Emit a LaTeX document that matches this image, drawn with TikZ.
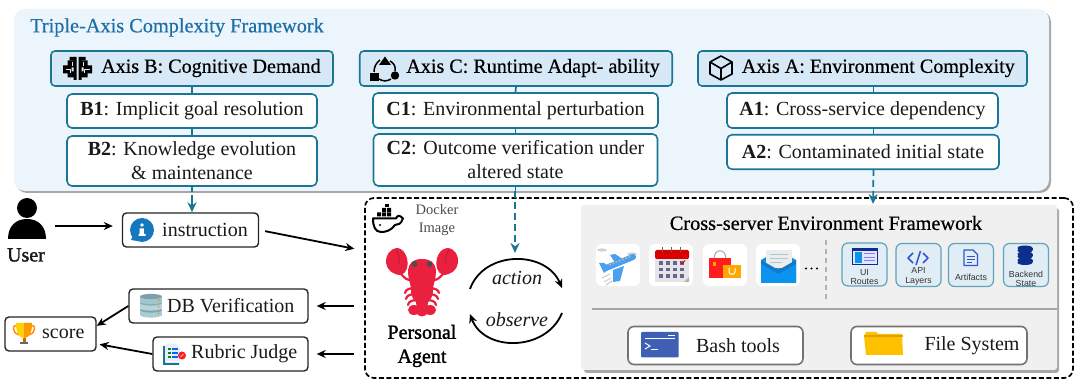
\documentclass[tikz,border=0pt]{standalone}
\usepackage{fontspec}
\setmainfont{Liberation Serif}
\setsansfont{Liberation Sans}
\newfontfamily\heavyserif[FakeBold=1.6]{Liberation Serif}
\newfontfamily\medserif[FakeBold=0.5]{Liberation Serif}
\usetikzlibrary{arrows.meta,calc}
\definecolor{tealline}{HTML}{1B7696}
\definecolor{panelblue}{HTML}{EDF5FC}
\definecolor{axisfill}{HTML}{D7E8F6}
\definecolor{titleblue}{HTML}{1D6FA8}
\definecolor{panelgray}{HTML}{F0F0F0}
\definecolor{shadowgray}{HTML}{A8A8A8}
\definecolor{tilefill}{HTML}{E0EDF5}
\definecolor{tileline}{HTML}{5FA3BC}
\definecolor{lobster}{HTML}{E9213F}
\definecolor{iconblue}{HTML}{2F55D4}
\definecolor{infoblue}{HTML}{1577BD}
\definecolor{skyblue}{HTML}{4A9FF0}
\definecolor{mailblue}{HTML}{0B93F0}
\definecolor{mailflap}{HTML}{1677C8}
\definecolor{termblue}{HTML}{3F5FB5}
\definecolor{folder}{HTML}{FFC000}
\definecolor{navy}{HTML}{0B2F8A}
\newcommand{\txt}[1]{\fontsize{#1}{#1}\selectfont}
\tikzset{
  axisbox/.style={draw=tealline,fill=axisfill,line width=1.6pt,rounded corners=4pt,inner sep=0pt},
  itembox/.style={draw=tealline,fill=white,line width=1.6pt,rounded corners=5pt,inner sep=0pt,align=center,font=\txt{20},text=black!90},
  flowbox/.style={draw=black!85,fill=white,line width=1.4pt,rounded corners=4pt,inner sep=0pt},
  toolbox/.style={draw=black!55,fill=white,line width=1.6pt,rounded corners=6pt,inner sep=0pt},
  apptile/.style={fill=white,rounded corners=6pt,inner sep=0pt},
  layertile/.style={draw=tileline,fill=tilefill,line width=1.2pt,rounded corners=6pt,inner sep=0pt},
  label/.style={inner sep=0pt,font=\txt{20},text=black!90},
  tinylabel/.style={inner sep=0pt,align=center,font=\sffamily\txt{8.8},text=black!80},
  arrowline/.style={draw=black,line width=1.8pt,-{Stealth[length=9pt,width=8pt]}},
  tealsolid/.style={draw=tealline,line width=1.7pt},
  tealarrow/.style={draw=tealline,line width=1.7pt,-{Stealth[length=10pt,width=9pt]}},
  tealdash/.style={tealarrow,dash pattern=on 7pt off 4pt}
}
\begin{document}
\begin{tikzpicture}[x=1pt,y=-1pt]
\useasboundingbox (0,0) rectangle (1080,387);
\fill[white] (0,0) rectangle (1080,387);

% framework panel
\fill[shadowgray,rounded corners=11pt] (16,11) rectangle (1051,193);
\node[fill=panelblue,rounded corners=11pt,minimum width=1035pt,minimum height=182pt,inner sep=0pt] (panel) at (531.5,100) {};
\node[label,anchor=west,text=titleblue,font=\medserif\txt{20.3}] (paneltitle) at (30,27.5) {Triple-Axis Complexity Framework};

% axis headers
\node[axisbox,minimum width=282pt,minimum height=35pt] (axisB) at (192,68.5) {};
\node[axisbox,minimum width=312.5pt,minimum height=35pt] (axisC) at (516,68.5) {};
\node[axisbox,minimum width=329pt,minimum height=35pt] (axisA) at (862.5,68.5) {};
\node[label,anchor=west,font=\medserif\txt{20.1},text=black] (axisBtext) at (101,68) {Axis B: Cognitive Demand};
\node[label,anchor=east,font=\medserif\txt{20.1},text=black] (axisCtext) at (660,68) {Axis C: Runtime Adapt- ability};
\node[label,anchor=east,font=\medserif\txt{20.1},text=black] (axisAtext) at (1015,68) {Axis A: Environment Complexity};

% item boxes
\node[itembox,minimum width=250pt,minimum height=34pt] (b1) at (192,111) {\textbf{B1}: Implicit goal resolution};
\node[itembox,minimum width=250pt,minimum height=50pt] (b2) at (192,161) {\textbf{B2}: Knowledge evolution\\[4pt]\& maintenance};
\node[itembox,minimum width=285pt,minimum height=35pt] (c1) at (515.5,110.5) {\textbf{C1}: Environmental perturbation};
\node[itembox,minimum width=284pt,minimum height=52pt] (c2) at (515.5,160) {\textbf{C2}: Outcome verification under\\[4pt]altered state};
\node[itembox,minimum width=271pt,minimum height=35pt] (a1) at (862.5,110.5) {\textbf{A1}: Cross-service dependency};
\node[itembox,minimum width=272pt,minimum height=34.5pt] (a2) at (863,152) {\textbf{A2}: Contaminated initial state};

% brain icon on the cognitive axis
\begin{scope}[shift={(77.5,68.5)}]
  \fill[black] (-4,-11.5) rectangle (-1,11.5) (1,-11.5) rectangle (4,11.5);
  \fill[black] (-10,-8) rectangle (-3,-1) (3,-8) rectangle (10,-1);
  \fill[black] (-14.5,-3) rectangle (-6,5) (6,-3) rectangle (14.5,5);
  \fill[black] (-10,3) rectangle (-3,9) (3,3) rectangle (10,9);
  \fill[black] (-8,-11.5) rectangle (-3,-8) (3,-11.5) rectangle (8,-8);
  \draw[axisfill,line width=.7pt] (-12,1) -- (-7,1) -- (-7,5) (12,1) -- (7,1) -- (7,5) (-5.5,-6) -- (-5.5,-2) (5.5,-6) -- (5.5,-2);
\end{scope}

% cycle icon on the runtime axis
\fill[black] (385,56.5) -- (391,65) -- (379,65) -- cycle;
\fill[black] (370,73.5) rectangle (378.5,81);
\fill[black] (395,75.5) circle (4.2);
\draw[black,line width=1.5pt] (374,72) .. controls (374,67) and (376,63) .. (380,60);
\draw[black,line width=1.5pt] (390,61) .. controls (394,63) and (396,67) .. (395,71);
\draw[black,line width=1.5pt] (391,79) .. controls (387,81.5) and (383,81.5) .. (379,79);

% cube icon on the environment axis
\draw[black,line width=1.6pt,line join=round] (721,56) -- (732,62) -- (732,74) -- (721,80) -- (710,74) -- (710,62) -- cycle;
\draw[black,line width=1.6pt,line join=round] (710,62) -- (721,68.5) -- (732,62) (721,68.5) -- (721,80);

% sandbox boundary and environment panel
\node[draw=black,line width=1.7pt,dash pattern=on 5pt off 2.5pt,rounded corners=9pt,minimum width=708pt,minimum height=180pt,inner sep=0pt] (docker) at (719,288) {};
\fill[shadowgray,rounded corners=3pt] (584,208) rectangle (1059,373);
\node[fill=panelgray,rounded corners=3pt,minimum width=476pt,minimum height=165pt,inner sep=0pt] (envpanel) at (819,287.5) {};
\node[label,font=\medserif\txt{20.3},text=black] (envtitle) at (826,223) {Cross-server Environment Framework};

% flow boxes
\node[flowbox,minimum width=136pt,minimum height=34pt] (instr) at (190.5,230) {};
\node[label,anchor=west] (instrtext) at (162,230) {instruction};
\node[flowbox,minimum width=179pt,minimum height=34pt] (db) at (218.5,306) {};
\node[label,anchor=west] (dbtext) at (167,306) {DB Verification};
\node[flowbox,minimum width=155pt,minimum height=34pt] (rubric) at (230.5,354) {};
\node[label,anchor=west] (rubrictext) at (191,354) {Rubric Judge};
\node[flowbox,minimum width=91pt,minimum height=34pt] (score) at (50.5,334) {};
\node[label,anchor=west] (scoretext) at (42,334) {score};
\node[label,font=\heavyserif\txt{20}] (user) at (26,255) {User};
\node[label,font=\heavyserif\txt{20},align=center,text=black] (agent) at (422,346) {Personal\\[4pt]Agent};
\node[inner sep=0pt,align=center,font=\txt{14.5},text=black!70] (dockertext) at (437,220) {Docker\\[3pt]Image};

% axis connectors
\coordinate (lineA) at (873.5,128);
\draw[tealsolid] (axisB.south) -- (b1.north);
\draw[tealsolid] (b1.south) -- (b2.north);
\draw[tealsolid] (axisC.south) -- (c1.north);
\draw[tealsolid] (c1.south) -- (c2.north);
\draw[tealsolid] (axisA.south -| lineA) -- (a1.north -| lineA);
\draw[tealsolid] (a1.south -| lineA) -- (a2.north -| lineA);
\draw[tealsolid] (b2.south) -- ++(0,5);
\draw[tealsolid] (c2.south) -- ++(0,5);
\coordinate (bFrom) at (192,195);
\coordinate (cFrom) at (515,191);
\coordinate (cTo) at (515,253);
\coordinate (aFrom) at (873.5,169);
\coordinate (aTo) at (873,204);
\draw[tealarrow] (bFrom) -- (bFrom |- instr.north);
\draw[tealdash] (cFrom) -- (cTo);
\draw[tealdash] (aFrom) -- (aTo);

% flow connectors
\coordinate (userOut) at (55,226);
\draw[arrowline,shorten >=9pt] (userOut) -- (userOut -| instr.west);
\draw[arrowline,shorten <=6pt,shorten >=10pt] (instr.east) -- (docker.174);
\draw[arrowline,shorten <=10pt,shorten >=8pt] (docker.west |- db.east) -- (db.east);
\draw[arrowline,shorten <=10pt,shorten >=8pt] (docker.west |- rubric.east) -- (rubric.east);
\draw[arrowline] (db.west) -- (score.10);
\draw[arrowline,shorten >=3pt] (rubric.west) -- (score.-12);

% action and observe loop
\coordinate (loopTL) at (470,289);
\coordinate (loopTR) at (562,288);
\coordinate (loopBR) at (562,313);
\coordinate (loopBL) at (470,314);
\draw[arrowline] (loopTL) .. controls (484,250) and (546,250) .. (loopTR);
\draw[arrowline] (loopBR) .. controls (546,352) and (484,352) .. (loopBL);
\node[label,font=\itshape\txt{20}] (actionlabel) at (517,278) {action};
\node[label,font=\itshape\txt{20}] (observelabel) at (517,320) {observe};

% user glyph
\fill[black] (27,208) circle (10);
\fill[black] (8,239) .. controls (8,226) and (16,219) .. (27,219) .. controls (38,219) and (46,226) .. (46,239) -- cycle;

% info bubble
\fill[infoblue] (142,230) circle (12);
\fill[infoblue] (131,240) -- (137,241) -- (133,235) -- cycle;
\fill[white] (142,225) circle (1.8);
\fill[white] (139.5,228.5) rectangle (143.8,235) (138.5,234) rectangle (145.5,236);

% database stack
\foreach \yy/\cc in {310/A9CDD6,303/B5D5DC,296.5/A2C6D0}{
  \definecolor{disk}{HTML}{\cc}
  \fill[disk] (140,\yy) rectangle (162,\yy+5);
  \fill[disk] (151,\yy+5) ellipse (11 and 2.6);
  \fill[disk!80!black] (151,\yy) ellipse (11 and 2.6);
  \fill[orange] (158.5,\yy+3.5) circle (0.9);
}

% trophy
\draw[orange!90!yellow,line width=1.4pt] (17,326) .. controls (11,324) and (13,334) .. (19,335);
\draw[orange!90!yellow,line width=1.4pt] (31,326) .. controls (37,324) and (35,334) .. (29,335);
\fill[yellow!70!orange] (16,323) -- (32,323) .. controls (32,333) and (29,338) .. (24,338) .. controls (19,338) and (16,333) .. (16,323) -- cycle;
\fill[orange!80!yellow] (24,323) -- (32,323) .. controls (32,333) and (29,338) .. (24,338) -- cycle;
\fill[black!60] (20,342) rectangle (28,344.5);
\fill[orange!80!black] (22.5,338) rectangle (25.5,342);

% rubric sheet
\fill[tealline] (163,346) rectangle (165,365) (163,363) rectangle (179,365);
\fill[blue!8] (166,344) -- (176,344) -- (180,348) -- (180,361) -- (166,361) -- cycle;
\foreach \yy in {348,352,356}{
  \fill[green!55!black] (167.5,\yy) rectangle (170.5,\yy+2);
  \fill[blue!60!cyan] (172,\yy) rectangle (177.5,\yy+2);
}
\fill[red!85!pink] (182,355.5) circle (4);
\draw[white,line width=.7pt] (180.5,357) -- (183.5,354);

% whale with containers
\draw[black,line width=2pt,line join=round] (373,218.5) -- (396,218.5) .. controls (397,215) and (400,215) .. (403,218.5) .. controls (401,224) and (398,225) .. (395,225) .. controls (391,231) and (385,232) .. (381,232) .. controls (375,232) and (373,226) .. (373,218.5) -- cycle;
\fill[black] (377,212.5) rectangle (381,216.5) (382,212.5) rectangle (386,216.5) (387,212.5) rectangle (391,216.5);
\fill[black] (382,208) rectangle (386,212) (387,208) rectangle (391,212);
\fill[black] (385,204.5) rectangle (389,207.5);
\fill[black] (380,225) circle (1.1);

% lobster
\begin{scope}[lobster]
  \draw[line width=2.2pt,line cap=round] (399,270) .. controls (403,279) and (408,280) .. (413,281);
  \draw[line width=2.2pt,line cap=round] (445,270) .. controls (441,279) and (436,280) .. (431,281);
  \foreach \yy/\dd in {288/14,294/13,300/11}{
    \draw[line width=2.2pt,line cap=round] (422,\yy) .. controls (422-\dd,\yy) and (422-\dd-2,\yy+1) .. (422-\dd-3,\yy+5);
    \draw[line width=2.2pt,line cap=round] (422,\yy) .. controls (422+\dd,\yy) and (422+\dd+2,\yy+1) .. (422+\dd+3,\yy+5);
  }
  \fill (398,248) .. controls (390,248) and (385,256) .. (386,263) .. controls (387,270) and (393,275) .. (401,275) .. controls (407,273) and (409,265) .. (407,258) .. controls (405,252) and (402,249) .. (398,248) -- cycle;
  \fill (447,248) .. controls (455,248) and (459,256) .. (458,263) .. controls (457,270) and (451,275) .. (443,275) .. controls (437,273) and (435,265) .. (437,258) .. controls (439,252) and (442,249) .. (447,248) -- cycle;
  \fill (422,259) .. controls (431,259) and (435,263) .. (436,270) .. controls (436,280) and (433,284) .. (433,290) .. controls (433,298) and (428,305) .. (422,305) .. controls (416,305) and (411,298) .. (411,290) .. controls (411,284) and (408,280) .. (408,270) .. controls (409,263) and (413,259) .. (422,259) -- cycle;
  \fill (422,303) ellipse (6 and 6);
  \fill (414,310) ellipse (6 and 5) (430,310) ellipse (6 and 5) (422,312) ellipse (5.5 and 4.5);
\end{scope}
\draw[lobster!80!black,line width=.8pt] (396,250) .. controls (399,254) and (400,258) .. (399,263);
\draw[lobster!80!black,line width=.8pt] (449,250) .. controls (446,254) and (445,258) .. (446,263);
\fill[black!70] (414.5,264) circle (2.9) (429.5,264) circle (2.9);

% application tiles
\node[apptile,minimum width=44pt,minimum height=42pt] (appPlane) at (618,265) {};
\node[apptile,minimum width=44pt,minimum height=42pt] (appCal) at (671,265) {};
\node[apptile,minimum width=44pt,minimum height=42pt] (appBag) at (725,265) {};
\node[apptile,minimum width=44pt,minimum height=42pt] (appMail) at (778,265) {};

% plane
\fill[black!18] (602,250) ellipse (5 and 1.6) (632,254) ellipse (5 and 1.6);
\draw[black!25,line width=.7pt] (602,278) -- (610,274) (604,282) -- (611,278) (606,285) -- (612,281);
\fill[skyblue] (610,255) -- (615,254) -- (624,260) -- (616,264) -- cycle;
\fill[skyblue] (613,270) -- (624,266) -- (620,281) -- (613,282) -- cycle;
\fill[skyblue] (599,263) -- (604,263) -- (610,268) -- (604,273) -- cycle;
\draw[skyblue,line width=6pt,line cap=round] (606,268) -- (633,257);
\draw[black!30,line width=1.6pt,dash pattern=on 2pt off 1.5pt] (609,265) -- (631,256);

% calendar
\fill[black!10] (655,258) rectangle (689,282);
\fill[black!30] (684,282) -- (689,277) -- (689,282) -- cycle;
\fill[red!85!black,rounded corners=1.5pt] (655,250) rectangle (689,259);
\foreach \xx in {662,671,680}{\draw[black!60,line width=1pt] (\xx,247.5) -- (\xx,252);}
\foreach \yy in {261.5,268,274.5}{\foreach \xx in {659,666,673,680}{\fill[black!70!blue!60] (\xx,\yy) rectangle (\xx+4,\yy+3.5);}}
\draw[red!80!black,line width=.9pt] (680.5,262) -- (682,264) -- (685,260.5);

% shopping bags
\draw[black!35,line width=1pt] (714,259) .. controls (714,248) and (726,248) .. (726,259);
\fill[red!85!pink] (709,258) rectangle (731,278);
\fill[orange!70!yellow] (723,265) rectangle (741,278);
\draw[white,line width=1pt] (729,268) -- (729,272) .. controls (729,275) and (735,275) .. (735,272) -- (735,268);
\fill[orange!70!yellow] (713,262) rectangle (715.5,266);

% envelope
\fill[mailblue] (761,260) -- (778.5,250) -- (796,260) -- (796,283) -- (761,283) -- cycle;
\fill[black!7] (766,250) rectangle (792,268);
\draw[black!40!cyan!40,line width=1pt] (770,255) -- (788,255) (770,259) -- (788,259) (770,263) -- (782,263);
\fill[mailflap] (761,260) -- (778.5,270) -- (796,260) -- (796,264) -- (778.5,276) -- (761,264) -- cycle;
\fill[mailblue] (761,264) -- (778.5,274) -- (796,264) -- (796,283) -- (761,283) -- cycle;

% ellipsis and divider
\foreach \xx in {806,811.5,817}{\fill[black] (\xx,268.5) circle (1.2);}
\coordinate (divTop) at (826,240);
\coordinate (divEnd) at (826,301);
\draw[black!30,line width=1.7pt,dash pattern=on 5pt off 4pt] (divTop) -- (divEnd);
\coordinate (ruleL) at (592,309);
\draw[black!35,line width=1.3pt] (ruleL) -- (ruleL -| envpanel.east);

% layer tiles
\node[layertile,minimum width=45pt,minimum height=43pt] (tileUI) at (864.5,264.5) {};
\node[layertile,minimum width=45pt,minimum height=43pt] (tileAPI) at (918.5,265) {};
\node[layertile,minimum width=45pt,minimum height=43pt] (tileArt) at (971,265) {};
\node[layertile,minimum width=45pt,minimum height=43pt] (tileBack) at (1026,265) {};
\node[tinylabel] (tileUItext) at (864.5,277) {UI\\[.8pt]Routes};
\node[tinylabel] (tileAPItext) at (918.5,276.5) {API\\[.8pt]Layers};
\node[tinylabel] (tileArttext) at (971,277.5) {Artifacts};
\node[tinylabel] (tileBacktext) at (1026,279) {Backend\\[.8pt]State};

% routes glyph
\fill[navy] (851.5,248) rectangle (878,265.5);
\fill[blue!10] (853,251) rectangle (876.5,264);
\fill[mailblue] (854.5,252.5) rectangle (862,263);
\draw[blue!50,line width=1pt] (864,254) -- (875,254) (864,257.5) -- (875,257.5) (864,261) -- (875,261);

% code glyph
\draw[iconblue,line width=1.7pt,line join=round] (913,253) -- (908,258) -- (913,263);
\draw[iconblue,line width=1.7pt,line join=round] (923,253) -- (928,258) -- (923,263);
\draw[iconblue,line width=1.5pt] (920.5,251) -- (916,265);

% document glyph
\draw[iconblue,line width=1.3pt,line join=round] (964,250) -- (973,250) -- (977.5,254.5) -- (977.5,265.5) -- (964,265.5) -- cycle;
\draw[iconblue,line width=1pt] (966.5,257) -- (975,257) (966.5,260) -- (975,260) (966.5,263) -- (972,263);

% backend cylinder
\foreach \yy in {258.5,252.5,246.5}{
  \fill[navy] (1017.5,\yy+1.5) rectangle (1032.5,\yy+4);
  \fill[navy] (1025,\yy+4) ellipse (7.5 and 2.5);
  \fill[navy] (1025,\yy+1.5) ellipse (7.5 and 2.5);
}

% tool boxes
\node[toolbox,minimum width=175pt,minimum height=38pt] (bash) at (715.5,345.5) {};
\node[label,font=\txt{20}] (bashtext) at (738,346) {Bash tools};
\node[toolbox,minimum width=176pt,minimum height=38pt] (files) at (939,345.5) {};
\node[label,font=\txt{20}] (filestext) at (972,345.5) {File System};

% terminal glyph
\fill[termblue,rounded corners=1pt] (641,332) rectangle (678.5,357.5);
\draw[white,line width=.8pt] (645,338) -- (675,338);
\fill[white] (668,335) rectangle (675,336);
\draw[white,line width=1pt] (645,343) -- (650,346) -- (645,349);
\draw[white,line width=1pt] (651,350) -- (658,350);

% folder glyph
\fill[folder] (864,336) -- (866,332) -- (876,332) -- (878,334) -- (902,334) -- (903,355) -- (866,355) -- cycle;
\fill[folder!85!black] (864,335.5) -- (903,335.5) -- (903,337) -- (864,337) -- cycle;
\end{tikzpicture}
\end{document}
